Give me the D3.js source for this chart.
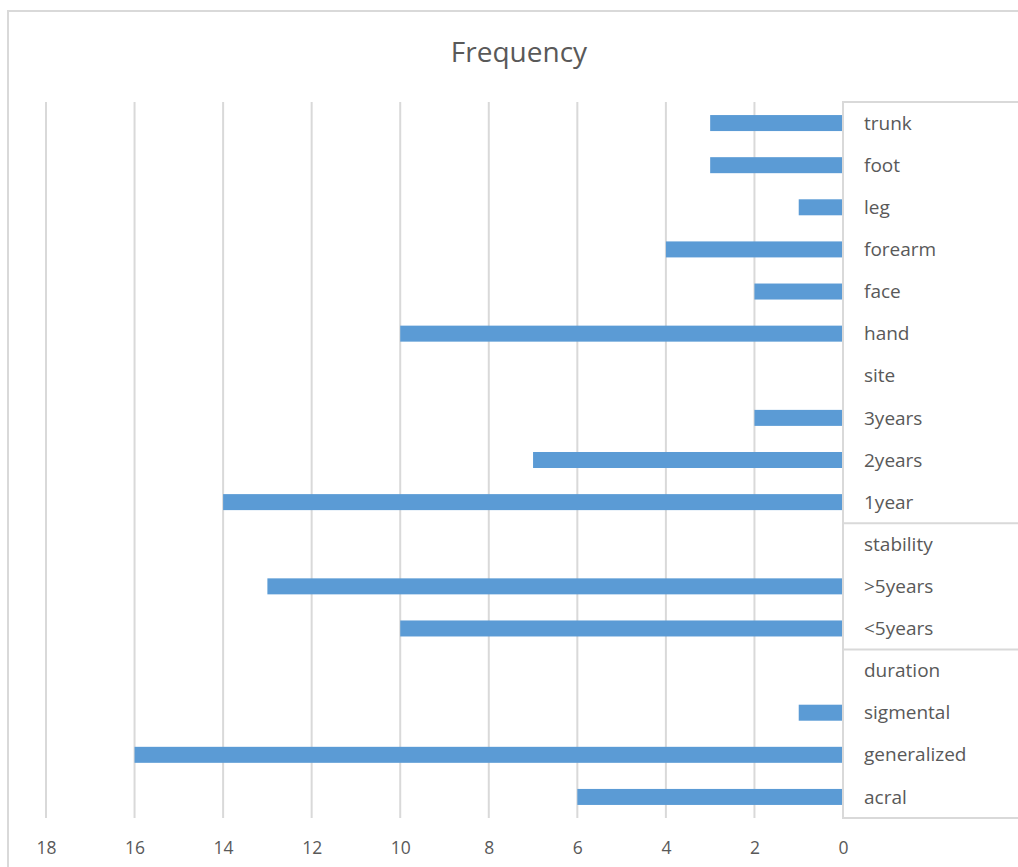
<!DOCTYPE html>
<html>
<head>
<meta charset="utf-8">
<script src="https://cdn.jsdelivr.net/npm/d3@7"></script>
<style>
  html, body { margin: 0; padding: 0; background: #fff; }
  svg { display: block; }
  text { font-family: "Open Sans", Lato, sans-serif; fill: #595959; }
</style>
</head>
<body>
<svg id="chart" width="1018" height="867"></svg>
<script>
// Rows from top to bottom; group headers carry no bar
const categories = ["trunk", "foot", "leg", "forearm", "face", "hand", "site",
  "3years", "2years", "1year", "stability", ">5years", "<5years", "duration",
  "sigmental", "generalized", "acral"];
const frequency = [3, 3, 1, 4, 2, 10, 0, 2, 7, 14, 0, 13, 10, 0, 1, 16, 6];
const xTicks = [18, 16, 14, 12, 10, 8, 6, 4, 2, 0];
const groupBreaks = ["1year", "<5years"]; // separator drawn below these rows

const svg = d3.select("#chart");
const W = 1018, H = 867;
const plot = { left: 46, right: 843, top: 102, bottom: 818 };
const fontStack = "'Open Sans', Lato, sans-serif";

// outer chart frame
svg.append("rect")
  .attr("x", 8).attr("y", 11).attr("width", W).attr("height", H)
  .attr("fill", "none").attr("stroke", "#d9d9d9").attr("stroke-width", 2);

svg.append("text")
  .attr("x", 519).attr("y", 62)
  .attr("text-anchor", "middle")
  .attr("font-size", 28)
  .text("Frequency");

// reversed value axis: 18 on the left, 0 at the category axis
const x = d3.scaleLinear().domain([18, 0]).range([plot.left, plot.right]);
const y = d3.scaleBand().domain(categories).range([plot.top, plot.bottom]).paddingInner(0.62).paddingOuter(0.31);

// vertical gridlines
svg.append("g").selectAll("line").data(xTicks.filter(d => d !== 0)).join("line")
  .attr("x1", d => x(d)).attr("x2", d => x(d))
  .attr("y1", plot.top).attr("y2", plot.bottom)
  .attr("stroke", "#d9d9d9").attr("stroke-width", 2);

// tick labels
const xAxis = d3.axisBottom(x).tickValues(xTicks).tickSize(0).tickPadding(0);
const gx = svg.append("g").attr("transform", `translate(0,${plot.bottom + 30})`).call(xAxis);
gx.select(".domain").remove();
gx.selectAll("text").attr("font-size", 17.5).attr("fill", "#595959").attr("dy", "0.35em")
  .style("font-family", fontStack);

// bars
svg.append("g").selectAll("rect").data(categories.map((c, i) => ({ c, v: frequency[i] })))
  .join("rect")
  .attr("x", d => x(d.v))
  .attr("y", d => y(d.c))
  .attr("width", d => x(0) - x(d.v))
  .attr("height", y.bandwidth())
  .attr("fill", "#5b9bd5");

// category axis box with group separators
const boxColor = "#d9d9d9";
const axisG = svg.append("g");
axisG.append("line").attr("x1", x(0)).attr("x2", x(0)).attr("y1", plot.top).attr("y2", plot.bottom)
  .attr("stroke", boxColor).attr("stroke-width", 2);
axisG.append("line").attr("x1", x(0) - 1).attr("x2", W).attr("y1", plot.top).attr("y2", plot.top)
  .attr("stroke", boxColor).attr("stroke-width", 2);
axisG.append("line").attr("x1", x(0) - 1).attr("x2", W).attr("y1", plot.bottom).attr("y2", plot.bottom)
  .attr("stroke", boxColor).attr("stroke-width", 2);
const step = y.step();
axisG.selectAll("line.sep").data(groupBreaks).join("line").attr("class", "sep")
  .attr("x1", x(0)).attr("x2", W)
  .attr("y1", d => y(d) + y.bandwidth() / 2 + step / 2)
  .attr("y2", d => y(d) + y.bandwidth() / 2 + step / 2)
  .attr("stroke", boxColor).attr("stroke-width", 2);

// category labels
svg.append("g").selectAll("text").data(categories).join("text")
  .attr("x", x(0) + 21)
  .attr("y", d => y(d) + y.bandwidth() / 2)
  .attr("dy", "0.35em")
  .attr("font-size", 19)
  .text(d => d);
</script>
</body>
</html>
